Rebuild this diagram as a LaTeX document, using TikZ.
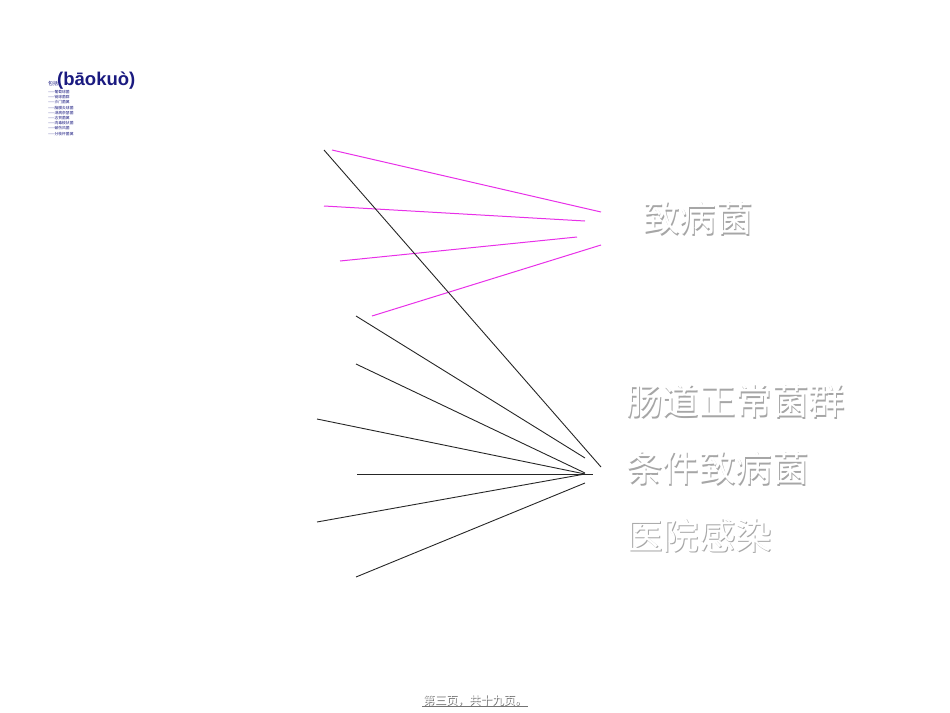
\documentclass[tikz,border=0pt]{standalone}
\usepackage{fontspec}
\usepackage{xcolor}
\setmainfont{Liberation Sans}
\newfontfamily\cjk{Noto Sans CJK SC}
\usepackage{tikz}
\usetikzlibrary{positioning,calc}
\definecolor{navy}{HTML}{1A1A80}
\definecolor{lnk}{HTML}{E830E8}
\tikzset{
  pink/.style={draw=lnk, line width=1pt},
  dark/.style={draw=black!85, line width=0.9pt},
  big/.style={font=\cjk\fontsize{36.5}{36.5}\selectfont, inner sep=0pt, anchor=west},
  bigshd/.style={big, text=black!35},
  bigtop/.style={big, text=white},
  item/.style={font=\cjk\fontsize{3.8}{3.8}\selectfont, text=navy, inner sep=0pt, anchor=west},
  foot/.style={font=\cjk\fontsize{11.5}{11.5}\selectfont, inner sep=1pt},
}
\begin{document}
\begin{tikzpicture}[x=1pt,y=-1pt]
\useasboundingbox (0,0) rectangle (950,712);
% title and list
\node[font=\cjk\fontsize{5}{5}\selectfont, text=navy, inner sep=0pt, anchor=base west] (tsm) at (48,85) {包括};
\node[font=\bfseries\fontsize{18.5}{18.5}\selectfont, text=navy, inner sep=0pt, anchor=base west] (ttl) at (57,85) {(bāokuò)};
\node[item] (i1) at (48,92) {——葡萄球菌};
\node[item] (i2) at (48,97.2) {——链球菌群};
\node[item] (i3) at (48,102.4) {——沙门菌属};
\node[item] (i4) at (48,107.6) {——脑膜炎球菌};
\node[item] (i5) at (48,112.8) {——淋病奈瑟菌};
\node[item] (i6) at (48,118) {——志贺菌属};
\node[item] (i7) at (48,123.2) {——肉毒梭状菌};
\node[item] (i8) at (48,128.4) {——破伤风菌};
\node[item] (i9) at (48,133.6) {——分枝杆菌属};
% labels
\node[bigshd] at (644.2,219.2) {致病菌};
\node[bigtop] (zb) at (643,218) {致病菌};
\node[bigshd] at (627.2,402.2) {肠道正常菌群};
\node[bigtop] (cd) at (626,401) {肠道正常菌群};
\node[bigshd] at (627.2,469.2) {条件致病菌};
\node[bigtop] (tj) at (626,468) {条件致病菌};
\node[bigshd] at (627.2,536.2) {医院感染};
\node[bigtop] (yy) at (626,535) {医院感染};
% line ends
\coordinate (p1) at (332,150); \coordinate (q1) at (601,212);
\coordinate (p2) at (324,206); \coordinate (q2) at (585,221);
\coordinate (p3) at (340,261); \coordinate (q3) at (577,237);
\coordinate (p4) at (372,316); \coordinate (q4) at (601,245);
\coordinate (a0) at (324,150); \coordinate (b0) at (601,467);
\coordinate (a1) at (356,316); \coordinate (b1) at (585,458);
\coordinate (a2) at (356,364); \coordinate (b2) at (585,473);
\coordinate (a3) at (317,419); \coordinate (b3) at (585,474);
\coordinate (a4) at (357,474); \coordinate (b4) at (593,474);
\coordinate (a5) at (317,522); \coordinate (b5) at (585,474);
\coordinate (a6) at (356,577); \coordinate (b6) at (585,483);
\foreach \i in {1,...,4} \draw[pink] (p\i) -- (q\i);
\foreach \i in {0,...,6} \draw[dark] (a\i) -- (b\i);
% footer
\node[foot, text=black!60] at (475.8,700.8) {第三页，共十九页。};
\node[foot, text=white] (ft) at (475,700) {第三页，共十九页。};
\draw[black!55, line width=0.8pt] (ft.south west) -- (ft.south east);
\end{tikzpicture}
\end{document}
